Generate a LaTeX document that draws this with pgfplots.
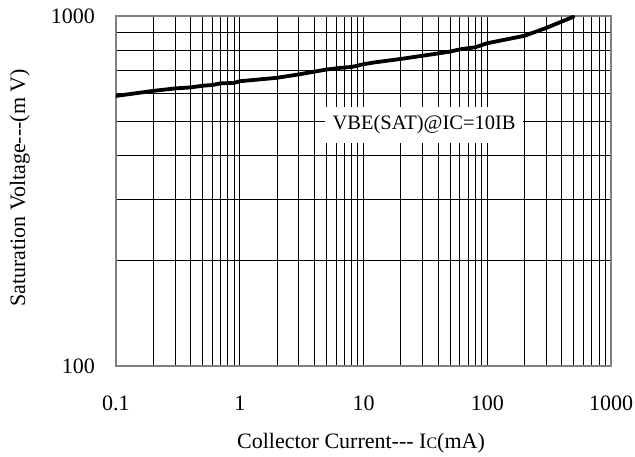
\documentclass[border=0pt]{standalone}
\usepackage{pgfplots}
\pgfplotsset{compat=1.18}
\usepackage{fontspec}
\setmainfont{Liberation Serif}
\begin{document}
\fontsize{22}{26}\selectfont
\begin{tikzpicture}[x=1pt,y=1pt]
\begin{axis}[
  at={(0pt,0pt)}, anchor=south west,
  scale only axis, width=495pt, height=350pt,
  xmode=log, ymode=log,
  xmin=0.1, xmax=1000, ymin=100, ymax=1000,
  xtick={0.1,1,10,100,1000}, xticklabels={0.1,1,10,100,1000},
  ytick={100,1000}, yticklabels={100,1000},
  minor xtick={0.2,0.3,0.4,0.5,0.6,0.7,0.8,0.9,2,3,4,5,6,7,8,9,20,30,40,50,60,70,80,90,200,300,400,500,600,700,800,900},
  minor ytick={200,300,400,500,600,700,800,900},
  grid=both,
  major grid style={draw=black, line width=0.8pt},
  minor grid style={draw=black, line width=0.8pt},
  major tick length=0pt, minor tick length=0pt,
  axis line style={draw=gray, line width=1.6pt},
  xticklabel style={anchor=center, inner sep=0pt, yshift=-37pt},
  yticklabel style={anchor=east, inner sep=0pt, xshift=-21pt},
  xlabel={Collector Current-{}-{}- I{\fontsize{16}{16}\selectfont C}(mA)},
  xlabel style={at={(axis description cs:0.495,-0.22)}, anchor=center, inner sep=0pt},
  ylabel={Saturation Voltage-{}-{}-(m V)},
  ylabel style={at={(axis description cs:-0.194,0.5086)}, anchor=center, inner sep=0pt, rotate=0},
]
\addplot[black, line width=3.8pt, line join=round, line cap=round] coordinates {
  (0.1,591) (0.2,611) (0.3,621) (0.4,625) (0.5,632) (0.6,635) (0.7,642)
  (0.9,644) (1.0,651) (2,666) (3,681) (5,703) (6.5,711) (8,715) (9.8,727)
  (12,736) (20,754) (30,770) (50,791) (60,803) (80,814) (100,836)
  (200,878) (294,922) (498,995)
};
\node[fill=white, inner sep=0pt, minimum width=198pt, minimum height=36pt, font=\fontsize{20.5}{24}\selectfont] at (axis cs:30.9,488) {VBE(SAT)@IC=10IB};
\end{axis}
\pgfresetboundingbox
\useasboundingbox (-116,-91) rectangle (519,366);
\end{tikzpicture}
\end{document}
